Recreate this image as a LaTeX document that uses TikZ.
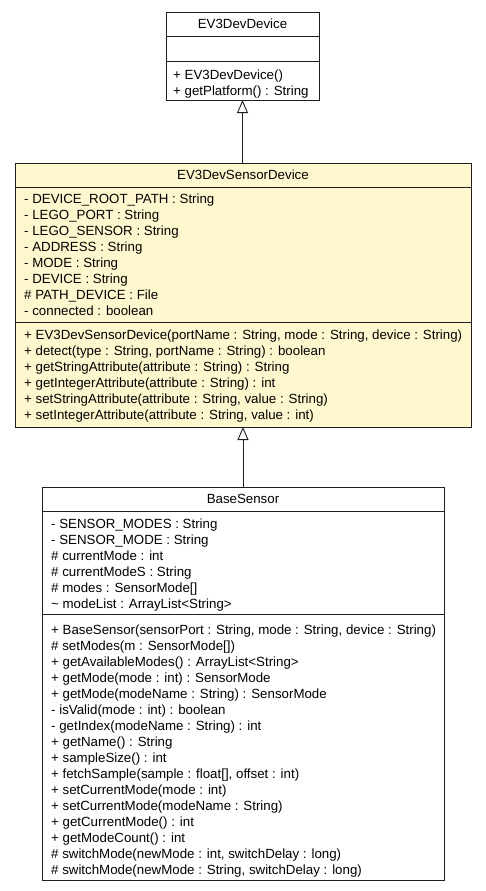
\documentclass[tikz,border=0pt]{standalone}
\usepackage{fontspec}
\setmainfont{Liberation Sans}
\usetikzlibrary{arrows.meta}
\definecolor{umlyellow}{RGB}{255,248,206}
\definecolor{umlline}{RGB}{30,30,30}
\begin{document}
\begin{tikzpicture}[x=1pt,y=-1pt,
  comp/.style={draw=umlline, line width=0.9pt, rectangle, inner sep=0pt, outer sep=0pt, anchor=north west},
  plain/.style={comp, fill=white},
  yellow/.style={comp, fill=umlyellow},
  title/.style={font=\fontsize{13.3}{16}\selectfont, inner sep=0pt},
  members/.style={font=\fontsize{13.3}{16}\selectfont, align=left, inner sep=0pt, anchor=north west},
  inherit/.style={draw=umlline, line width=0.9pt, -{Triangle[open, length=13pt, width=11pt, line width=0.9pt]}}]
\useasboundingbox (0,0) rectangle (485,891);
\fill[white] (0,0) rectangle (485,891);

% EV3DevDevice
\node[plain, minimum width=153pt, minimum height=24pt] (devT) at (166,12) {};
\node[plain, minimum width=153pt, minimum height=25pt] (devA) at (166,36) {};
\node[plain, minimum width=153pt, minimum height=39pt] (devM) at (166,61) {};
\node[title] (devTitle) at (devT.center) {EV3DevDevice};
\node[members] (devMethods) at (173,66.8) {\rule{0pt}{12pt}+ EV3DevDevice()\\
+ getPlatform() : String};

% EV3DevSensorDevice
\node[yellow, minimum width=456pt, minimum height=24pt] (sdT) at (15,163) {};
\node[yellow, minimum width=456pt, minimum height=135pt] (sdA) at (15,187) {};
\node[yellow, minimum width=456pt, minimum height=105pt] (sdM) at (15,322) {};
\node[title] (sdTitle) at (sdT.center) {EV3DevSensorDevice};
\node[members] (sdAttrs) at (24,190.8) {\rule{0pt}{12pt}- DEVICE\_ROOT\_PATH : String\\
- LEGO\_PORT : String\\
- LEGO\_SENSOR : String\\
- ADDRESS : String\\
- MODE : String\\
- DEVICE : String\\
\# PATH\_DEVICE : File\\
- connected : boolean};
\node[members] (sdMethods) at (24,326.8) {\rule{0pt}{12pt}+ EV3DevSensorDevice(portName : String, mode : String, device : String)\\
+ detect(type : String, portName : String) : boolean\\
+ getStringAttribute(attribute : String) : String\\
+ getIntegerAttribute(attribute : String) : int\\
+ setStringAttribute(attribute : String, value : String)\\
+ setIntegerAttribute(attribute : String, value : int)};

% BaseSensor
\node[plain, minimum width=402pt, minimum height=24pt] (bsT) at (42,487) {};
\node[plain, minimum width=402pt, minimum height=103pt] (bsA) at (42,511) {};
\node[plain, minimum width=402pt, minimum height=266pt] (bsM) at (42,614) {};
\node[title] (bsTitle) at (bsT.center) {BaseSensor};
\node[members] (bsAttrs) at (51,515.8) {\rule{0pt}{12pt}- SENSOR\_MODES : String\\
- SENSOR\_MODE : String\\
\# currentMode : int\\
\# currentModeS : String\\
\# modes : SensorMode[]\\
\textasciitilde{} modeList : ArrayList<String>};
\node[members] (bsMethods) at (51,621.8) {\rule{0pt}{12pt}+ BaseSensor(sensorPort : String, mode : String, device : String)\\
\# setModes(m : SensorMode[])\\
+ getAvailableModes() : ArrayList<String>\\
+ getMode(mode : int) : SensorMode\\
+ getMode(modeName : String) : SensorMode\\
- isValid(mode : int) : boolean\\
- getIndex(modeName : String) : int\\
+ getName() : String\\
+ sampleSize() : int\\
+ fetchSample(sample : float[], offset : int)\\
+ setCurrentMode(mode : int)\\
+ setCurrentMode(modeName : String)\\
+ getCurrentMode() : int\\
+ getModeCount() : int\\
\# switchMode(newMode : int, switchDelay : long)\\
\# switchMode(newMode : String, switchDelay : long)};

% generalizations
\draw[inherit] (sdT.north -| devM.south) -- (devM.south);
\draw[inherit] (bsT.north -| sdM.south) -- (sdM.south);
\end{tikzpicture}
\end{document}
